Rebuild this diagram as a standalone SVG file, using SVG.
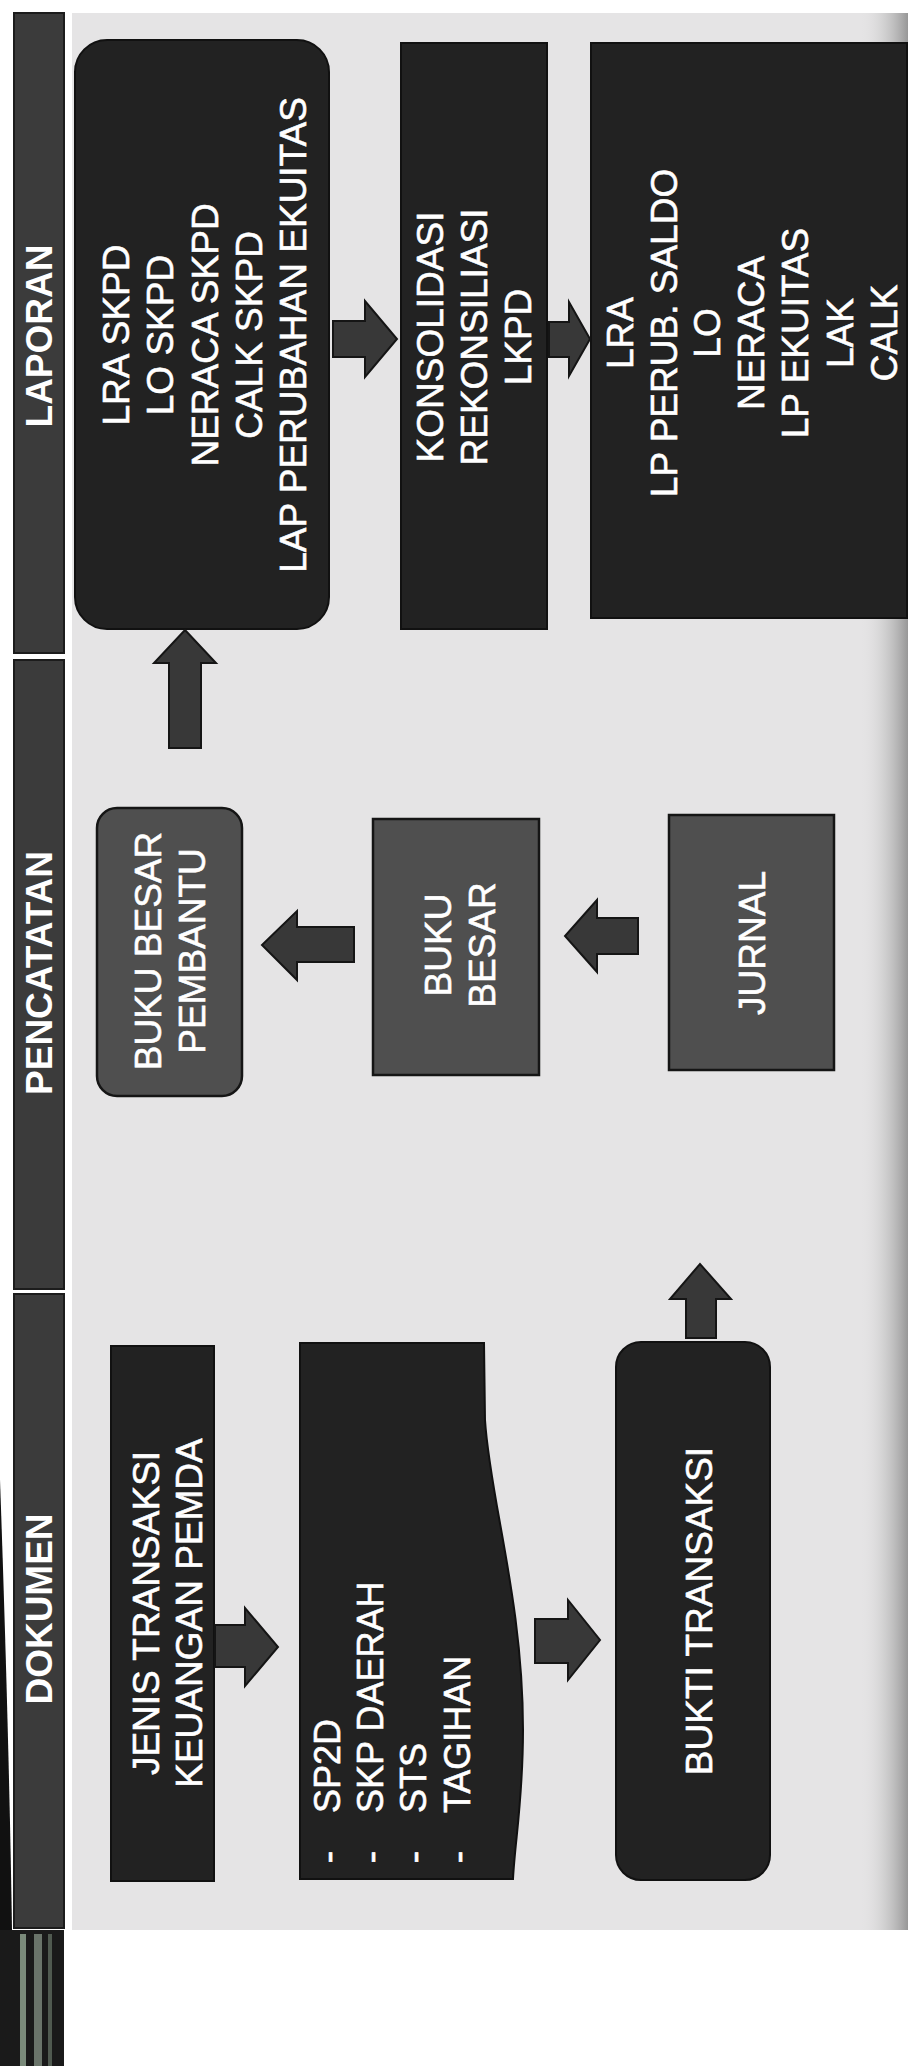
<svg xmlns="http://www.w3.org/2000/svg" width="913" height="2066" viewBox="0 0 913 2066">
<defs>
<linearGradient id="shadeR" x1="0" y1="0" x2="1" y2="0">
<stop offset="0" stop-color="#e4e4e4" stop-opacity="0"/>
<stop offset="1" stop-color="#8e8e8e" stop-opacity="0.9"/>
</linearGradient>
<style>
.bg{fill:#e5e4e5}
.hdr{fill:#3b3b3b;stroke:#1c1c1c;stroke-width:2}
.hdrt{font-family:"Liberation Sans",Arial,sans-serif;font-weight:bold;font-size:37px;fill:#ffffff;text-anchor:middle}
.dark{fill:#222222;stroke:#111111;stroke-width:2}
.mid{fill:#4f4f4f;stroke:#151515;stroke-width:2.5}
.t{font-family:"Liberation Sans",Arial,sans-serif;font-size:37px;fill:#ffffff;stroke:#ffffff;stroke-width:0.6;text-anchor:middle}
.ts{font-family:"Liberation Sans",Arial,sans-serif;font-size:36px;fill:#ffffff;stroke:#ffffff;stroke-width:0.6;text-anchor:start}
.arr{fill:#383838;stroke:#151515;stroke-width:2;stroke-linejoin:miter}
</style>
</defs>
<rect x="0" y="0" width="913" height="2066" fill="#ffffff"/>
<rect class="bg" x="72" y="13" width="836" height="1917"/>
<rect x="860" y="13" width="48" height="1917" fill="url(#shadeR)"/>
<path d="M0,1480 C6,1650 10,1800 12,1930 L0,1930 Z" fill="#111111"/>
<rect x="0" y="1930" width="64" height="136" fill="#1a1a1a"/>
<rect x="20" y="1934" width="6" height="132" fill="#7a8a7a"/>
<rect x="34" y="1934" width="8" height="132" fill="#6a746a"/>
<rect x="48" y="1934" width="4" height="132" fill="#505a50"/>
<g id="lane-laporan">
<rect class="hdr" x="14" y="13" width="50" height="640"/>
<text class="hdrt" transform="translate(52,336) rotate(-90)">LAPORAN</text>
</g>
<g id="lane-pencatatan">
<rect class="hdr" x="14" y="660" width="50" height="629"/>
<text class="hdrt" transform="translate(52,973) rotate(-90)">PENCATATAN</text>
</g>
<g id="lane-dokumen">
<rect class="hdr" x="14" y="1294" width="50" height="634"/>
<text class="hdrt" transform="translate(52,1609) rotate(-90)">DOKUMEN</text>
</g>
<g id="node-laporan-skpd">
<rect class="dark" x="75" y="40" width="254" height="589" rx="32" ry="32"/>
<text class="t" transform="translate(129,335) rotate(-90)">LRA SKPD</text>
<text class="t" transform="translate(173,335) rotate(-90)">LO SKPD</text>
<text class="t" transform="translate(218,335) rotate(-90)">NERACA SKPD</text>
<text class="t" transform="translate(262,335) rotate(-90)">CALK SKPD</text>
<text class="t" transform="translate(306,335) rotate(-90)">LAP PERUBAHAN EKUITAS</text>
</g>
<g id="node-konsolidasi">
<rect class="dark" x="401" y="43" width="146" height="586"/>
<text class="t" transform="translate(443,337) rotate(-90)">KONSOLIDASI</text>
<text class="t" transform="translate(487,337) rotate(-90)">REKONSILIASI</text>
<text class="t" transform="translate(531,337) rotate(-90)">LKPD</text>
</g>
<g id="node-lkpd">
<rect class="dark" x="591" y="43" width="316" height="575"/>
<text class="t" transform="translate(633,333) rotate(-90)">LRA</text>
<text class="t" transform="translate(677,333) rotate(-90)">LP PERUB. SALDO</text>
<text class="t" transform="translate(720,333) rotate(-90)">LO</text>
<text class="t" transform="translate(764,333) rotate(-90)">NERACA</text>
<text class="t" transform="translate(808,333) rotate(-90)">LP EKUITAS</text>
<text class="t" transform="translate(853,333) rotate(-90)">LAK</text>
<text class="t" transform="translate(897,333) rotate(-90)">CALK</text>
</g>
<g id="node-buku-besar-pembantu">
<rect class="mid" x="97" y="808" width="145" height="288" rx="20" ry="20"/>
<text class="t" transform="translate(161,951) rotate(-90)">BUKU BESAR</text>
<text class="t" transform="translate(205,951) rotate(-90)">PEMBANTU</text>
</g>
<g id="node-buku-besar">
<rect class="mid" x="373" y="819" width="166" height="256"/>
<text class="t" transform="translate(451,945) rotate(-90)">BUKU</text>
<text class="t" transform="translate(495,945) rotate(-90)">BESAR</text>
</g>
<g id="node-jurnal">
<rect class="mid" x="669" y="815" width="165" height="255"/>
<text class="t" transform="translate(765,943) rotate(-90)">JURNAL</text>
</g>
<g id="node-jenis-transaksi">
<rect class="dark" x="111" y="1346" width="103" height="535"/>
<text class="t" transform="translate(159,1613) rotate(-90)">JENIS TRANSAKSI</text>
<text class="t" transform="translate(202,1613) rotate(-90)">KEUANGAN PEMDA</text>
</g>
<g id="node-dokumen-sumber">
<path class="dark" d="M300,1343 H484 L485,1420 C490,1500 523,1600 523,1730 C523,1800 515,1840 513,1879 H300 Z"/>
<text class="ts" transform="translate(340,1813) rotate(-90)">SP2D</text>
<text class="ts" transform="translate(383,1813) rotate(-90)">SKP DAERAH</text>
<text class="ts" transform="translate(426,1813) rotate(-90)">STS</text>
<text class="ts" transform="translate(470,1813) rotate(-90)">TAGIHAN</text>
<text class="t" transform="translate(340,1857) rotate(-90)">-</text>
<text class="t" transform="translate(383,1857) rotate(-90)">-</text>
<text class="t" transform="translate(426,1857) rotate(-90)">-</text>
<text class="t" transform="translate(470,1857) rotate(-90)">-</text>
</g>
<g id="node-bukti-transaksi">
<rect class="dark" x="616" y="1342" width="154" height="538" rx="25" ry="25"/>
<text class="t" transform="translate(712,1611) rotate(-90)">BUKTI TRANSAKSI</text>
</g>
<g id="connectors">
<polygon class="arr" points="333,321 365,321 365,301 397,339 365,377 365,357 333,357"/>
<polygon class="arr" points="549,322 569,322 569,302 590,339 569,376 569,357 549,357"/>
<polygon class="arr" points="169,748 169,663 154,663 185,630 216,663 201,663 201,748"/>
<polygon class="arr" points="354,927 297,927 297,911 262,945 297,980 297,962 354,962"/>
<polygon class="arr" points="638,918 597,918 597,900 565,936 597,972 597,954 638,954"/>
<polygon class="arr" points="686,1338 686,1299 670,1299 700,1264 731,1299 716,1299 716,1338"/>
<polygon class="arr" points="215,1625 245,1625 245,1608 278,1647 245,1686 245,1667 215,1667"/>
<polygon class="arr" points="535,1619 568,1619 568,1600 600,1640 568,1680 568,1663 535,1663"/>
</g>
</svg>
